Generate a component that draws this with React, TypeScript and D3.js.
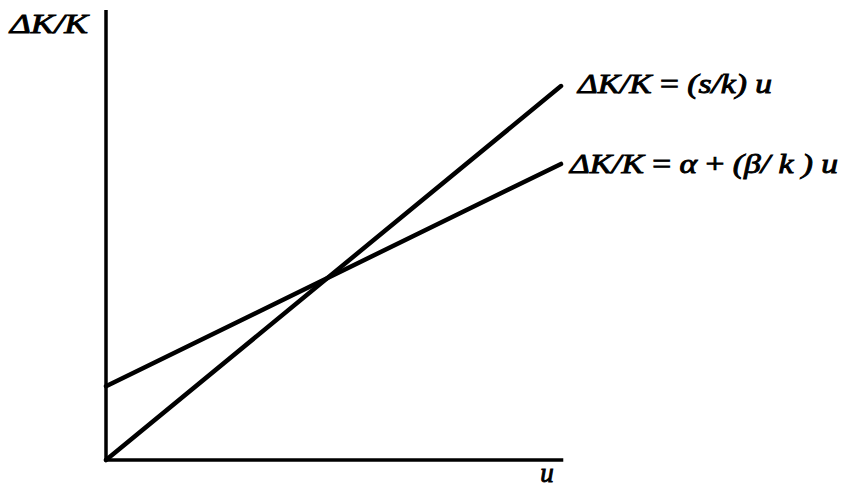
import React from "react";
import * as d3 from "d3";

// Axis extents (in data units)
const uAxisMax = [10.05];
const yAxisMax = [10];

// Series: ΔK/K = (s/k) u   and   ΔK/K = α + (β/k) u
const uValues = [0, 10];
const savingsLine = [0, 8.31];
const investLine = [1.64, 6.58];

const W = 842;
const H = 489;

export default function App() {
  const x = d3.scaleLinear().domain([0, 10]).range([106, 561]);
  const y = d3.scaleLinear().domain([0, 10]).range([460, 10]);

  const line = d3
    .line<[number, number]>()
    .x((d) => x(d[0]))
    .y((d) => y(d[1]));

  const s1 = uValues.map((u, i) => [u, savingsLine[i]] as [number, number]);
  const s2 = uValues.map((u, i) => [u, investLine[i]] as [number, number]);

  const base = {
    fontStyle: "italic" as const,
    fontWeight: 400,
    fontSize: 27,
    stroke: "#000",
    strokeWidth: 0.9,
    fill: "#000",
  };
  const ff = { fontFamily: "'Liberation Serif', 'Times New Roman', serif" };

  return (
    <svg
      width={W}
      height={H}
      viewBox={`0 0 ${W} ${H}`}
      style={{ position: "absolute", left: 0, top: 0, background: "#fff" }}
    >
      <line x1={x(0)} y1={y(0)} x2={x(0)} y2={y(yAxisMax[0])} stroke="#000" strokeWidth={3.5} />
      <line x1={x(0) - 1.5} y1={y(0)} x2={x(uAxisMax[0])} y2={y(0)} stroke="#000" strokeWidth={3.5} />
      <path d={line(s1) || ""} fill="none" stroke="#000" strokeWidth={4.5} strokeLinecap="round" />
      <path d={line(s2) || ""} fill="none" stroke="#000" strokeWidth={4.5} strokeLinecap="round" />

      <text x={10} y={33} {...base} style={ff} textLength={78} lengthAdjust="spacingAndGlyphs">
        ΔK/K
      </text>
      <text x={547} y={482} {...base} style={ff} textAnchor="middle">
        u
      </text>
      <text x={578} y={93} {...base} style={ff} textLength={194} lengthAdjust="spacingAndGlyphs">
        ΔK/K <tspan fontStyle="normal">=</tspan> (s/k) u
      </text>
      <text x={570} y={173} {...base} style={ff} textLength={268} lengthAdjust="spacingAndGlyphs">
        ΔK/K <tspan fontStyle="normal">=</tspan> α <tspan fontStyle="normal">+</tspan> (β/ k ) u
      </text>
    </svg>
  );
}
